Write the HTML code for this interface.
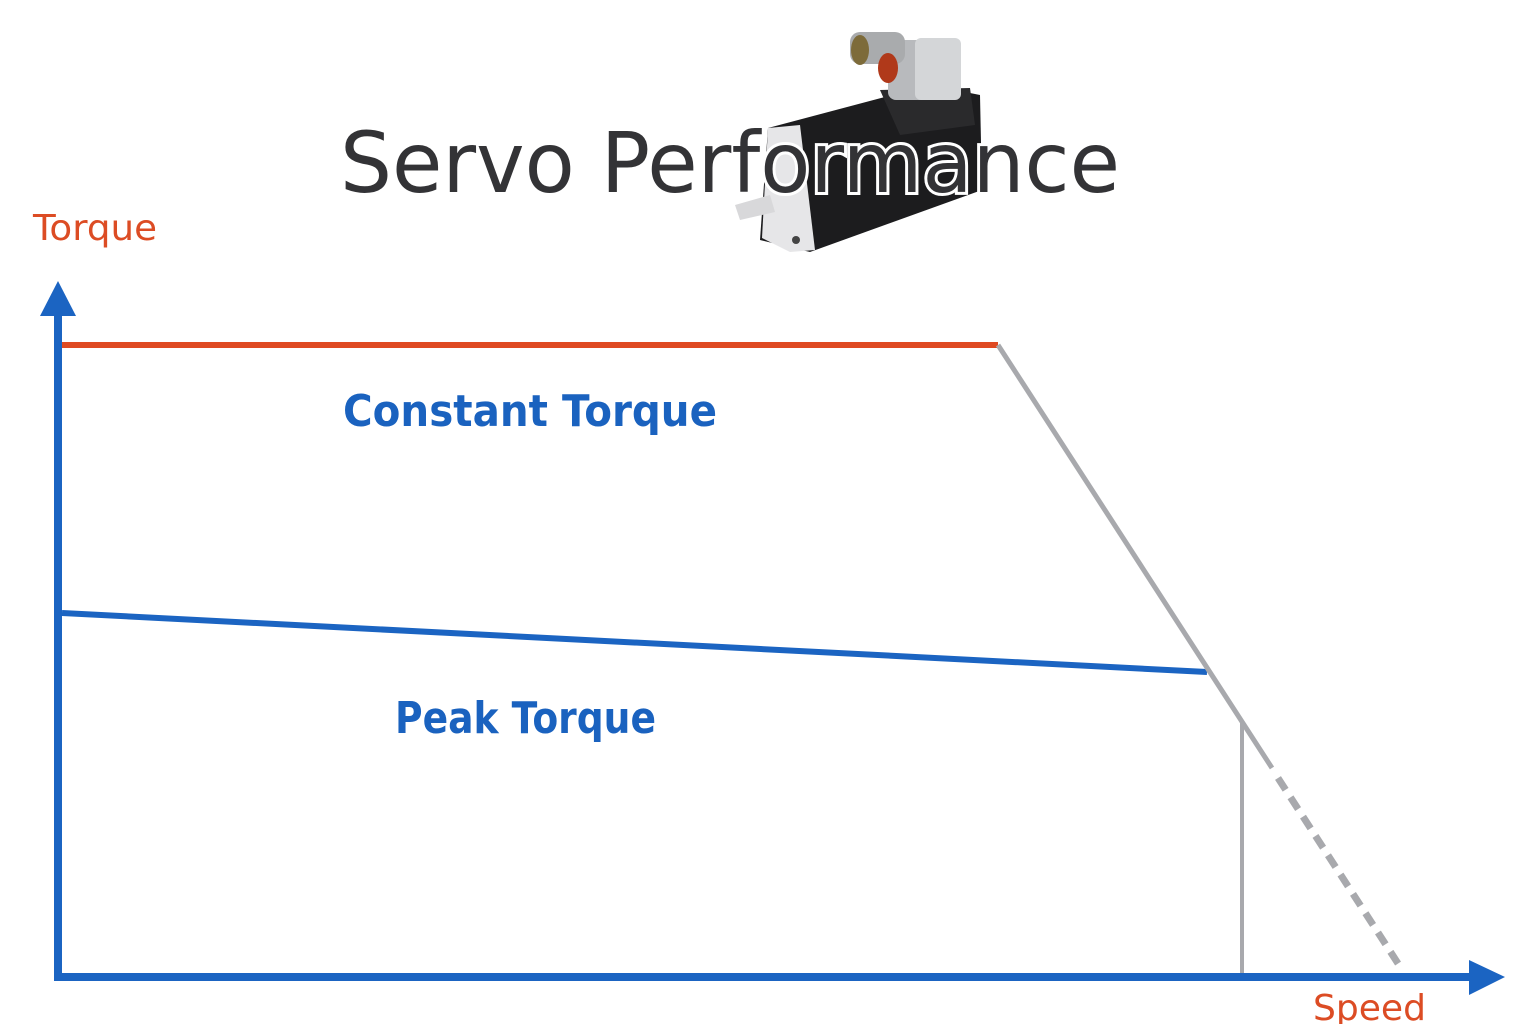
<!DOCTYPE html>
<html><head><style>
body{margin:0;background:#fff;}
svg{display:block;}
</style></head><body>
<svg width="1536" height="1024" viewBox="0 0 1536 1024" xmlns="http://www.w3.org/2000/svg">
<!-- motor -->
<g>
<polygon points="768,128 930,85 980,95 982,190 810,252 760,240" fill="#1c1c1e"/>
<polygon points="768,128 800,125 815,250 790,252 762,238" fill="#e6e6e8"/>
<polygon points="735,205 770,195 775,212 740,220" fill="#d8d8da"/>
<polygon points="880,90 970,88 975,125 900,135" fill="#2a2a2c"/>
<rect x="888" y="40" width="62" height="60" rx="8" fill="#b8babd"/>
<rect x="915" y="38" width="46" height="62" rx="6" fill="#d4d6d8"/>
<rect x="850" y="32" width="55" height="32" rx="10" fill="#a9abad"/>
<ellipse cx="860" cy="50" rx="9" ry="15" fill="#7d6b3a"/>
<ellipse cx="888" cy="68" rx="10" ry="15" fill="#b0391a"/>
<circle cx="796" cy="240" r="4" fill="#444"/>
</g>
<text x="340" y="192" font-family="'DejaVu Sans','Liberation Sans',sans-serif" font-size="84" fill="#333336" stroke="#fff" stroke-width="6" paint-order="stroke" textLength="780" lengthAdjust="spacingAndGlyphs">Servo Performance</text>
<text x="33" y="240" font-family="'DejaVu Sans','Liberation Sans',sans-serif" font-size="36" fill="#dc4c24" textLength="124" lengthAdjust="spacingAndGlyphs">Torque</text>
<text x="1313" y="1020" font-family="'DejaVu Sans','Liberation Sans',sans-serif" font-size="36" fill="#dc4c24" textLength="113" lengthAdjust="spacingAndGlyphs">Speed</text>
<text x="343" y="426" font-family="'DejaVu Sans','Liberation Sans',sans-serif" font-size="44" font-weight="bold" fill="#1a62bf" textLength="374" lengthAdjust="spacingAndGlyphs">Constant Torque</text>
<text x="395" y="733" font-family="'DejaVu Sans','Liberation Sans',sans-serif" font-size="44" font-weight="bold" fill="#1a62bf" textLength="261" lengthAdjust="spacingAndGlyphs">Peak Torque</text>
<!-- curves -->
<line x1="62" y1="345" x2="998" y2="345" stroke="#df4a22" stroke-width="6"/>
<line x1="62" y1="613" x2="1207" y2="672" stroke="#1b64c2" stroke-width="6"/>
<line x1="998" y1="345" x2="1272" y2="768" stroke="#a8a9ad" stroke-width="5"/>
<line x1="1278" y1="778" x2="1399" y2="965" stroke="#a8a9ad" stroke-width="7" stroke-dasharray="14,9"/>
<line x1="1242" y1="722" x2="1242" y2="973" stroke="#a8a9ad" stroke-width="4"/>
<!-- axes -->
<line x1="58" y1="977" x2="58" y2="312" stroke="#1b64c2" stroke-width="8"/>
<polygon points="40,316 76,316 58,281" fill="#1b64c2"/>
<line x1="54" y1="977" x2="1475" y2="977" stroke="#1b64c2" stroke-width="8"/>
<polygon points="1469,960 1469,995 1505,977" fill="#1b64c2"/>
</svg>
</body></html>
